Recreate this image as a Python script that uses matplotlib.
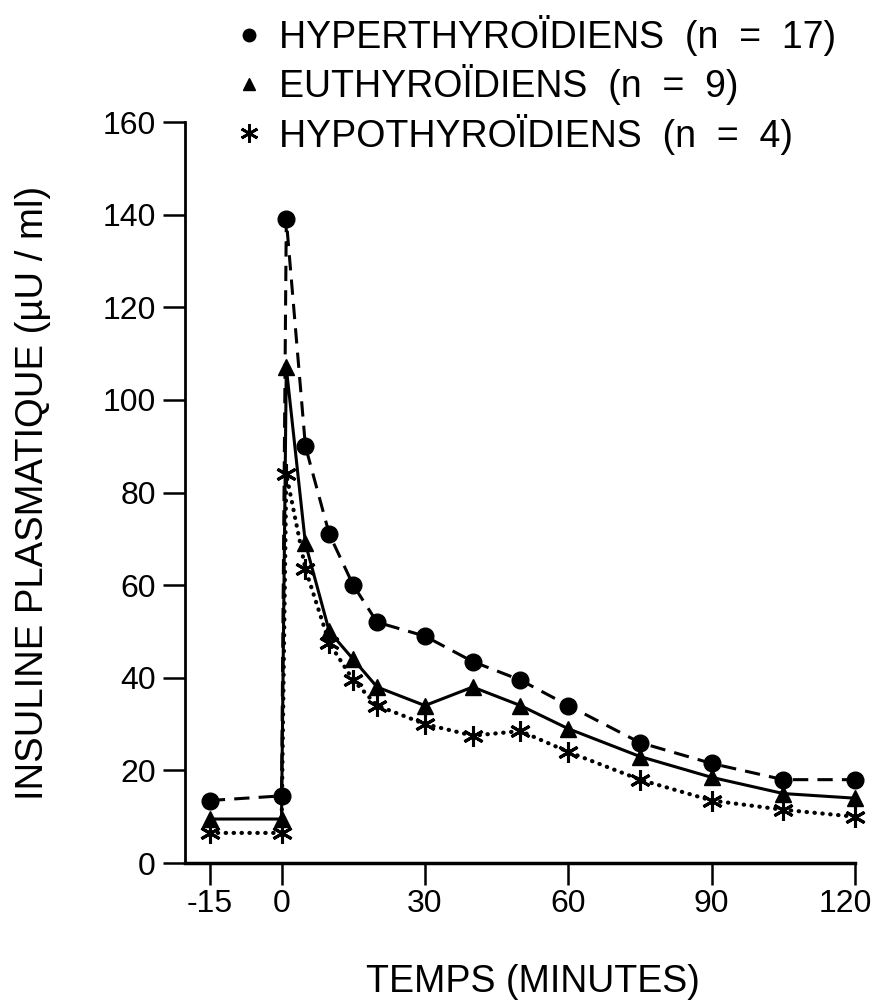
import matplotlib
matplotlib.use("Agg")
import matplotlib.pyplot as plt
from matplotlib.lines import Line2D
from matplotlib.transforms import ScaledTranslation

plt.rcParams['font.family'] = ['Liberation Sans', 'DejaVu Sans']
plt.rcParams['axes.unicode_minus'] = False

# temps (minutes)
temps = [-15, 0, 1, 5, 10, 15, 20, 30, 40, 50, 60, 75, 90, 105, 120]
hyper = [13.5, 14.5, 139, 90, 71, 60, 52, 49, 43.5, 39.5, 34, 26, 21.5, 18, 18]
eu = [9.5, 9.5, 107, 69, 50, 44, 38, 34, 38, 34, 29, 23, 18.5, 15, 14]
hypo = [6.5, 6.5, 84, 63.5, 47.5, 39.5, 34, 30, 27.5, 28.5, 24, 18, 13.5, 11.5, 10]

labels = ["HYPERTHYROÏDIENS  (n  =  17)",
          "EUTHYROÏDIENS  (n  =  9)",
          "HYPOTHYROÏDIENS  (n  =  4)"]
xticks = [-15, 0, 30, 60, 90, 120]
yticks = [0, 20, 40, 60, 80, 100, 120, 140, 160]

fig = plt.figure(figsize=(8.8, 10.02), dpi=100)
ax = fig.add_axes([0.2102, 0.1387, 0.7614, 0.7395])

star = (6, 2, 0)
ax.plot(temps, hyper, color='k', lw=2.2, linestyle=(0, (5, 3)),
        marker='o', ms=12, clip_on=False, zorder=3)
ax.plot(temps, eu, color='k', lw=2.2, linestyle='-',
        marker='^', ms=12, clip_on=False, zorder=3)
ax.plot(temps, hypo, color='k', lw=3, linestyle=(0, (0.1, 1.8)),
        dash_capstyle='round', marker=star, ms=15, mew=2.2,
        clip_on=False, zorder=3)

ax.set_xlim(-20.2, 120)
ax.set_ylim(0, 160)
ax.set_xticks(xticks)
ax.set_yticks(yticks)
ax.spines['top'].set_visible(False)
ax.spines['right'].set_visible(False)
ax.spines['left'].set_linewidth(2)
ax.spines['bottom'].set_linewidth(2.5)
ax.tick_params(direction='out', length=16, width=1.8, labelsize=23, pad=5)
ax.tick_params(axis='x', pad=3)

# le "120" est un peu décalé vers la gauche dans l'original
lab = ax.get_xticklabels()[-1]
lab.set_transform(lab.get_transform() + ScaledTranslation(-0.1, 0, fig.dpi_scale_trans))

ax.set_xlabel("TEMPS (MINUTES)", fontsize=27, labelpad=32)
ax.xaxis.label.set_x(0.52)
ax.set_ylabel("INSULINE PLASMATIQUE (µU / ml)", fontsize=27.5, labelpad=37)

handles = [Line2D([], [], color='k', ls='none', marker='o', ms=9),
           Line2D([], [], color='k', ls='none', marker='^', ms=9),
           Line2D([], [], color='k', ls='none', marker=star, ms=13, mew=2)]
fig.legend(handles, labels, loc='upper left', bbox_to_anchor=(0.27, 0.985),
           frameon=False, fontsize=27, handlelength=0.6, handletextpad=0.5,
           labelspacing=0.22, borderpad=0, borderaxespad=0)

plt.savefig("out.png", dpi=100)
